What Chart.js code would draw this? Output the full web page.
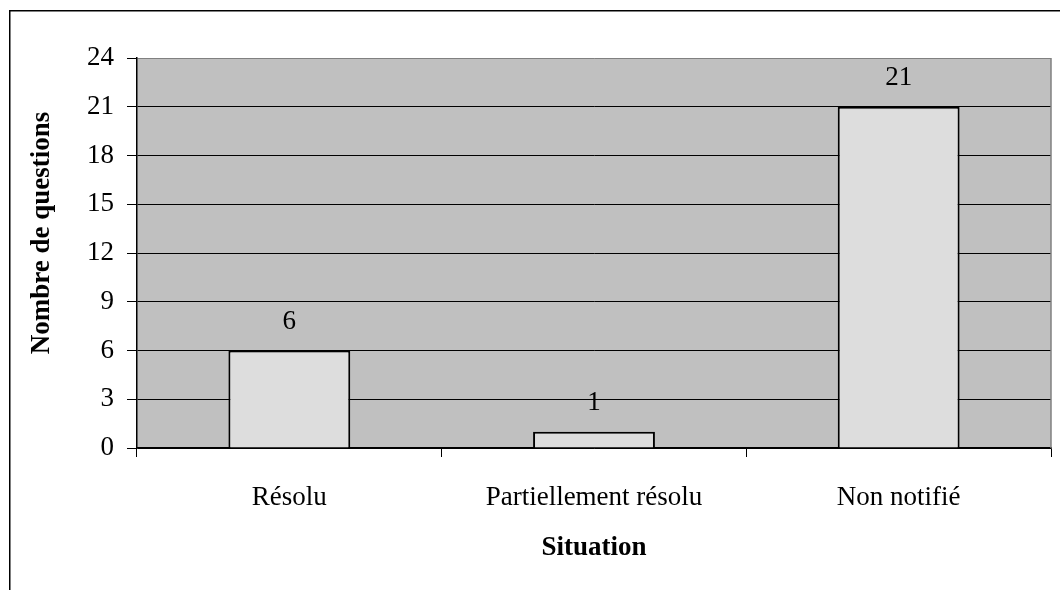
<!DOCTYPE html>
<html>
<head>
<meta charset="utf-8">
<script src="https://cdn.jsdelivr.net/npm/chart.js@4"></script>
<style>
html,body{margin:0;padding:0;background:#fff;}
#wrap{position:relative;width:1060px;height:590px;overflow:hidden;}
canvas{display:block;}
</style>
</head>
<body>
<div id="wrap"><canvas id="c" width="1060" height="590"></canvas></div>
<script>
const categories = ["Résolu", "Partiellement résolu", "Non notifié"];
const values = [6, 1, 21];
const yTicks = [0, 3, 6, 9, 12, 15, 18, 21, 24];
const xTitle = "Situation";
const yTitle = "Nombre de questions";

const FONT = "'Liberation Serif', 'Times New Roman', serif";

const decor = {
  id: 'decor',
  beforeDraw(chart) {
    const {ctx, chartArea: a} = chart;
    ctx.save();
    ctx.fillStyle = '#ffffff';
    ctx.fillRect(0, 0, chart.width, chart.height);
    ctx.fillStyle = '#c0c0c0';
    ctx.fillRect(a.left, a.top, a.right - a.left, a.bottom - a.top);
    ctx.restore();
  },
  afterDatasetsDraw(chart) {
    const {ctx, chartArea: a} = chart;
    ctx.save();
    ctx.strokeStyle = '#808080';
    ctx.lineWidth = 1.5;
    ctx.beginPath();
    ctx.moveTo(a.right, a.top);
    ctx.lineTo(a.right, a.bottom);
    ctx.stroke();
    ctx.fillStyle = '#000';
    ctx.font = '27px ' + FONT;
    ctx.textAlign = 'center';
    ctx.textBaseline = 'middle';
    const meta = chart.getDatasetMeta(0);
    meta.data.forEach((bar, i) => {
      ctx.fillText(String(values[i]), bar.x, bar.y - 29);
    });
    ctx.font = 'bold 27px ' + FONT;
    ctx.fillText(xTitle, (a.left + a.right) / 2, 548);
    ctx.translate(42, 233);
    ctx.rotate(-Math.PI / 2);
    ctx.fillText(yTitle, 0, 0);
    ctx.restore();
    ctx.save();
    ctx.strokeStyle = '#000';
    ctx.lineWidth = 1.5;
    ctx.beginPath();
    ctx.moveTo(9.75, 600);
    ctx.lineTo(9.75, 10.75);
    ctx.lineTo(1070, 10.75);
    ctx.stroke();
    ctx.restore();
  }
};

new Chart(document.getElementById('c'), {
  type: 'bar',
  data: {
    labels: categories,
    datasets: [{
      data: values,
      backgroundColor: '#dddddd',
      borderColor: '#000000',
      borderWidth: 2,
      categoryPercentage: 1,
      barPercentage: 0.4
    }]
  },
  options: {
    responsive: false,
    animation: false,
    devicePixelRatio: 1,
    layout: { padding: { top: 58, right: 9, left: 0, bottom: 0 } },
    plugins: { legend: { display: false }, tooltip: { enabled: false } },
    scales: {
      x: {
        offset: true,
        afterFit(s) { s.height = 142; },
        grid: { offset: true, drawOnChartArea: false, drawTicks: true, tickLength: 9, color: '#000', lineWidth: 1 },
        border: { display: true, color: '#000', width: 1.5 },
        ticks: { color: '#000', font: { family: FONT, size: 27 }, padding: 25, maxRotation: 0 }
      },
      y: {
        min: 0, max: 24,
        afterFit(s) { s.width = 137; },
        afterBuildTicks(s) { s.ticks = yTicks.map(v => ({ value: v })); },
        grid: {
          color: ctx => (ctx.tick && ctx.tick.value === 24) ? '#808080' : '#000',
          tickColor: '#000',
          lineWidth: 1,
          tickLength: 10,
          drawTicks: true
        },
        border: { display: true, color: '#000', width: 1.5 },
        ticks: { color: '#000', font: { family: FONT, size: 27 }, padding: 13 }
      }
    }
  },
  plugins: [decor]
});
</script>
</body>
</html>
